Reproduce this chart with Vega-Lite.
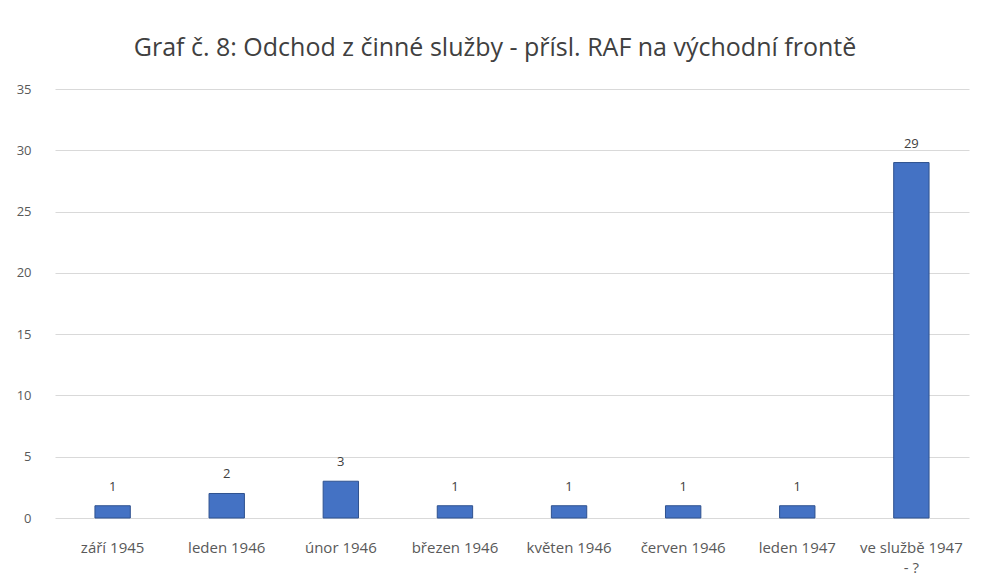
{
  "$schema": "https://vega.github.io/schema/vega-lite/v6.json",
  "width": 914,
  "height": 429,
  "autosize": "none",
  "padding": {"left": 55, "top": 89, "right": 13, "bottom": 66},
  "background": "white",
  "title": {
    "text": "Graf č. 8: Odchod z činné služby - přísl. RAF na východní frontě",
    "font": "Open Sans",
    "fontSize": 25,
    "fontWeight": "normal",
    "color": "#404040",
    "anchor": "middle",
    "offset": 22,
    "dx": -17
  },
  "data": {
    "values": [
      {"obdobi": "září 1945", "pocet": 1},
      {"obdobi": "leden 1946", "pocet": 2},
      {"obdobi": "únor 1946", "pocet": 3},
      {"obdobi": "březen 1946", "pocet": 1},
      {"obdobi": "květen 1946", "pocet": 1},
      {"obdobi": "červen 1946", "pocet": 1},
      {"obdobi": "leden 1947", "pocet": 1},
      {"obdobi": "ve službě 1947 - ?", "pocet": 29}
    ]
  },
  "encoding": {
    "x": {
      "field": "obdobi",
      "type": "nominal",
      "sort": null,
      "title": null,
      "scale": {"paddingInner": 0.69, "paddingOuter": 0.35},
      "axis": {
        "labelAngle": 0,
        "labelFont": "Open Sans",
        "labelFontSize": 15,
        "labelColor": "#595959",
        "labelPadding": 29,
        "labelLineHeight": 20,
        "labelBaseline": "middle",
        "domain": false,
        "ticks": false,
        "labelExpr": "datum.value == 've službě 1947 - ?' ? ['ve službě 1947', '- ?'] : datum.value"
      }
    },
    "y": {
      "field": "pocet",
      "type": "quantitative",
      "title": null,
      "scale": {"domain": [0, 35]},
      "axis": {
        "values": [0, 5, 10, 15, 20, 25, 30, 35],
        "labelFont": "Open Sans",
        "labelFontSize": 13,
        "labelColor": "#595959",
        "labelPadding": 24,
        "domain": false,
        "ticks": false,
        "gridColor": "#d9d9d9",
        "gridWidth": 1
      }
    }
  },
  "layer": [
    {
      "mark": {"type": "bar", "color": "#4472C4", "stroke": "#2F528F", "strokeWidth": 1}
    },
    {
      "mark": {"type": "text", "dy": -12, "baseline": "bottom", "font": "Open Sans", "fontSize": 13, "color": "#404040"},
      "encoding": {"text": {"field": "pocet", "type": "quantitative"}}
    }
  ],
  "config": {"view": {"stroke": null}}
}
